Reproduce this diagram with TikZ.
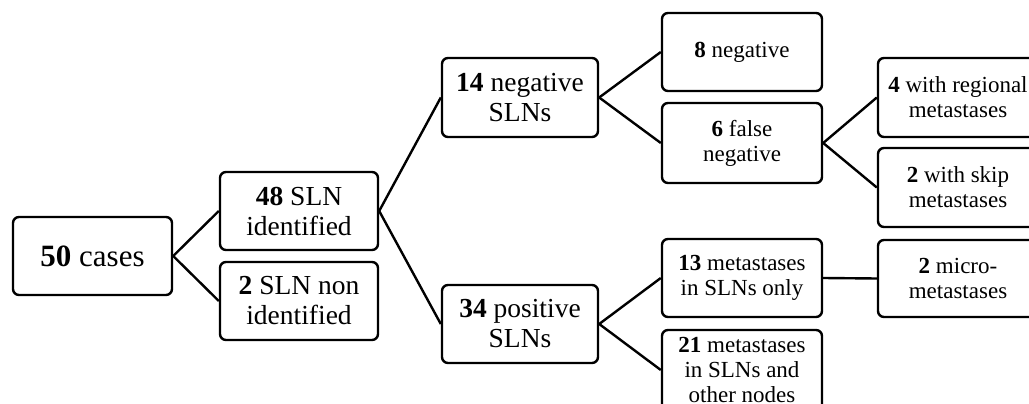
\documentclass[tikz,border=0pt]{standalone}
\usepackage{fontspec}
\setmainfont{Liberation Serif}
\begin{document}
\begin{tikzpicture}[x=1pt,y=-1pt,
  box/.style={draw=black, line width=2.4pt, rounded corners=6pt, align=center, inner sep=0pt, fill=white},
  big/.style={font=\fontsize{31}{33}\selectfont},
  mid/.style={font=\fontsize{27.5}{30}\selectfont},
  sml/.style={font=\fontsize{23}{25}\selectfont},
  conn/.style={draw=black, line width=2.4pt}]
\useasboundingbox (0,0) rectangle (1029,404);
\clip (0,0) rectangle (1029,404);
\node[box,big,minimum width=159pt,minimum height=78pt] (c50) at (92.5,256) {\textbf{50} cases};
\node[box,mid,minimum width=158pt,minimum height=78pt] (s48) at (299,211) {\textbf{48} SLN\\identified};
\node[box,mid,minimum width=158pt,minimum height=78pt] (s2) at (299,301) {\textbf{2} SLN non\\identified};
\node[box,mid,minimum width=156pt,minimum height=79pt] (n14) at (520,97.5) {\textbf{14} negative\\SLNs};
\node[box,mid,minimum width=156pt,minimum height=78pt] (p34) at (520,324) {\textbf{34} positive\\SLNs};
\node[box,sml,minimum width=160pt,minimum height=78pt] (n8) at (742,52) {\textbf{8} negative};
\node[box,sml,minimum width=160pt,minimum height=80pt] (f6) at (742,143) {\textbf{6} false\\negative};
\node[box,sml,minimum width=160pt,minimum height=78pt] (m13) at (742,278) {\textbf{13} metastases\\in SLNs only};
\node[box,sml,minimum width=160pt,minimum height=80pt] (m21) at (742,370) {\textbf{21} metastases\\in SLNs and\\other nodes};
\node[box,sml,minimum width=160pt,minimum height=79pt] (r4) at (958,97.5) {\textbf{4} with regional\\metastases};
\node[box,sml,minimum width=160pt,minimum height=79pt] (k2) at (958,187.5) {\textbf{2} with skip\\metastases};
\node[box,sml,minimum width=160pt,minimum height=77pt] (mi2) at (958,278.5) {\textbf{2} micro-\\metastases};
\draw[conn] (c50.east) -- (s48.west);
\draw[conn] (c50.east) -- (s2.west);
\draw[conn] (s48.east) -- (n14.west);
\draw[conn] (s48.east) -- (p34.west);
\draw[conn] (n14.east) -- (n8.west);
\draw[conn] (n14.east) -- (f6.west);
\draw[conn] (f6.east) -- (r4.west);
\draw[conn] (f6.east) -- (k2.west);
\draw[conn] (p34.east) -- (m13.west);
\draw[conn] (p34.east) -- (m21.west);
\draw[conn] (m13.east) -- (mi2.west);
\end{tikzpicture}
\end{document}
